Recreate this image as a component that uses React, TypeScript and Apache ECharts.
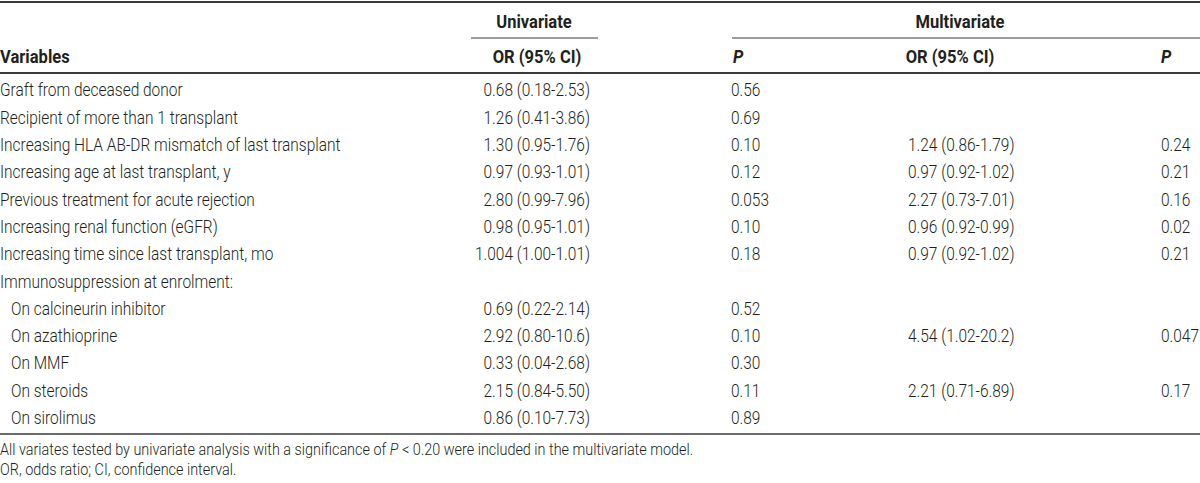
import React, { useEffect, useRef } from "react";
import * as echarts from "echarts";

const variables = [
  "Graft from deceased donor",
  "Recipient of more than 1 transplant",
  "Increasing HLA AB-DR mismatch of last transplant",
  "Increasing age at last transplant, y",
  "Previous treatment for acute rejection",
  "Increasing renal function (eGFR)",
  "Increasing time since last transplant, mo",
  "Immunosuppression at enrolment:",
  "On calcineurin inhibitor",
  "On azathioprine",
  "On MMF",
  "On steroids",
  "On sirolimus",
];
const indented = [false, false, false, false, false, false, false, false, true, true, true, true, true];
const uniOR = [
  "0.68 (0.18-2.53)",
  "1.26 (0.41-3.86)",
  "1.30 (0.95-1.76)",
  "0.97 (0.93-1.01)",
  "2.80 (0.99-7.96)",
  "0.98 (0.95-1.01)",
  "1.004 (1.00-1.01)",
  "",
  "0.69 (0.22-2.14)",
  "2.92 (0.80-10.6)",
  "0.33 (0.04-2.68)",
  "2.15 (0.84-5.50)",
  "0.86 (0.10-7.73)",
];
const uniP = ["0.56", "0.69", "0.10", "0.12", "0.053", "0.10", "0.18", "", "0.52", "0.10", "0.30", "0.11", "0.89"];
const multiOR = [
  "",
  "",
  "1.24 (0.86-1.79)",
  "0.97 (0.92-1.02)",
  "2.27 (0.73-7.01)",
  "0.96 (0.92-0.99)",
  "0.97 (0.92-1.02)",
  "",
  "",
  "4.54 (1.02-20.2)",
  "",
  "2.21 (0.71-6.89)",
  "",
];
const multiP = ["", "", "0.24", "0.21", "0.16", "0.02", "0.21", "", "", "0.047", "", "0.17", ""];
const footnotes = [
  "All variates tested by univariate analysis with a significance of {i|P} < 0.20 were included in the multivariate model.",
  "OR, odds ratio; CI, confidence interval.",
];

const FONT = 'Roboto, "DejaVu Sans Condensed", sans-serif';
const COLOR = "#231f20";

export default function App() {
  const ref = useRef<HTMLDivElement>(null);
  useEffect(() => {
    if (!ref.current) return;
    const chart = echarts.init(ref.current, null, { renderer: "svg" });
    const els: any[] = [];
    const txt = (text: string, x: number, y: number, align: string, opts: any = {}) => {
      const size = opts.size || 18;
      const weight = opts.bold ? "bold" : 300;
      els.push({
        type: "text",
        x,
        y,
        scaleX: opts.sx || (opts.bold ? 0.92 : 0.86),
        style: {
          text,
          fill: COLOR,
          fontFamily: FONT,
          fontSize: size,
          fontWeight: weight,
          fontStyle: opts.italic ? "italic" : "normal",
          align,
          verticalAlign: "middle",
          textAlign: align,
          textVerticalAlign: "middle",
          rich: opts.rich,
        },
      });
    };
    const hline = (x1: number, x2: number, y: number, w: number) => {
      els.push({
        type: "line",
        shape: { x1, y1: y, x2, y2: y },
        style: { stroke: "#3a3a3a", lineWidth: w },
      });
    };
    hline(0, 1200, 2, 2);
    txt("Univariate", 534, 22, "center", { bold: true });
    txt("Multivariate", 960, 22, "center", { bold: true });
    hline(471, 598, 38, 1.2);
    hline(732, 1200, 38, 1.2);
    txt("Variables", 0, 57, "left", { bold: true });
    txt("OR (95% CI)", 537, 57, "center", { bold: true });
    txt("P", 733, 57, "left", { bold: true, italic: true });
    txt("OR (95% CI)", 950, 57, "center", { bold: true });
    txt("P", 1161, 57, "left", { bold: true, italic: true });
    hline(0, 1200, 73, 2);
    const y0 = 90;
    const dy = 27.3;
    variables.forEach((v, i) => {
      const y = y0 + i * dy;
      txt(v, indented[i] ? 11 : 0, y, "left");
      if (uniOR[i]) txt(uniOR[i], 590, y, "right");
      if (uniP[i]) txt(uniP[i], 731, y, "left");
      if (multiOR[i]) txt(multiOR[i], 908, y, "left");
      if (multiP[i]) txt(multiP[i], 1161, y, "left");
    });
    hline(0, 1200, 434, 1.5);
    txt(footnotes[0], 0, 450, "left", {
      size: 16,
      sx: 0.9,
      rich: { i: { fontFamily: FONT, fontSize: 16, fontWeight: 300, fontStyle: "italic", fill: COLOR } },
    });
    txt(footnotes[1], 0, 470, "left", { size: 16, sx: 0.9 });
    chart.setOption({
      animation: false,
      backgroundColor: "#ffffff",
      graphic: { elements: els },
    });
    return () => chart.dispose();
  }, []);
  return (
    <div
      ref={ref}
      style={{ position: "absolute", left: 0, top: 0, width: 1200, height: 483 }}
    />
  );
}
